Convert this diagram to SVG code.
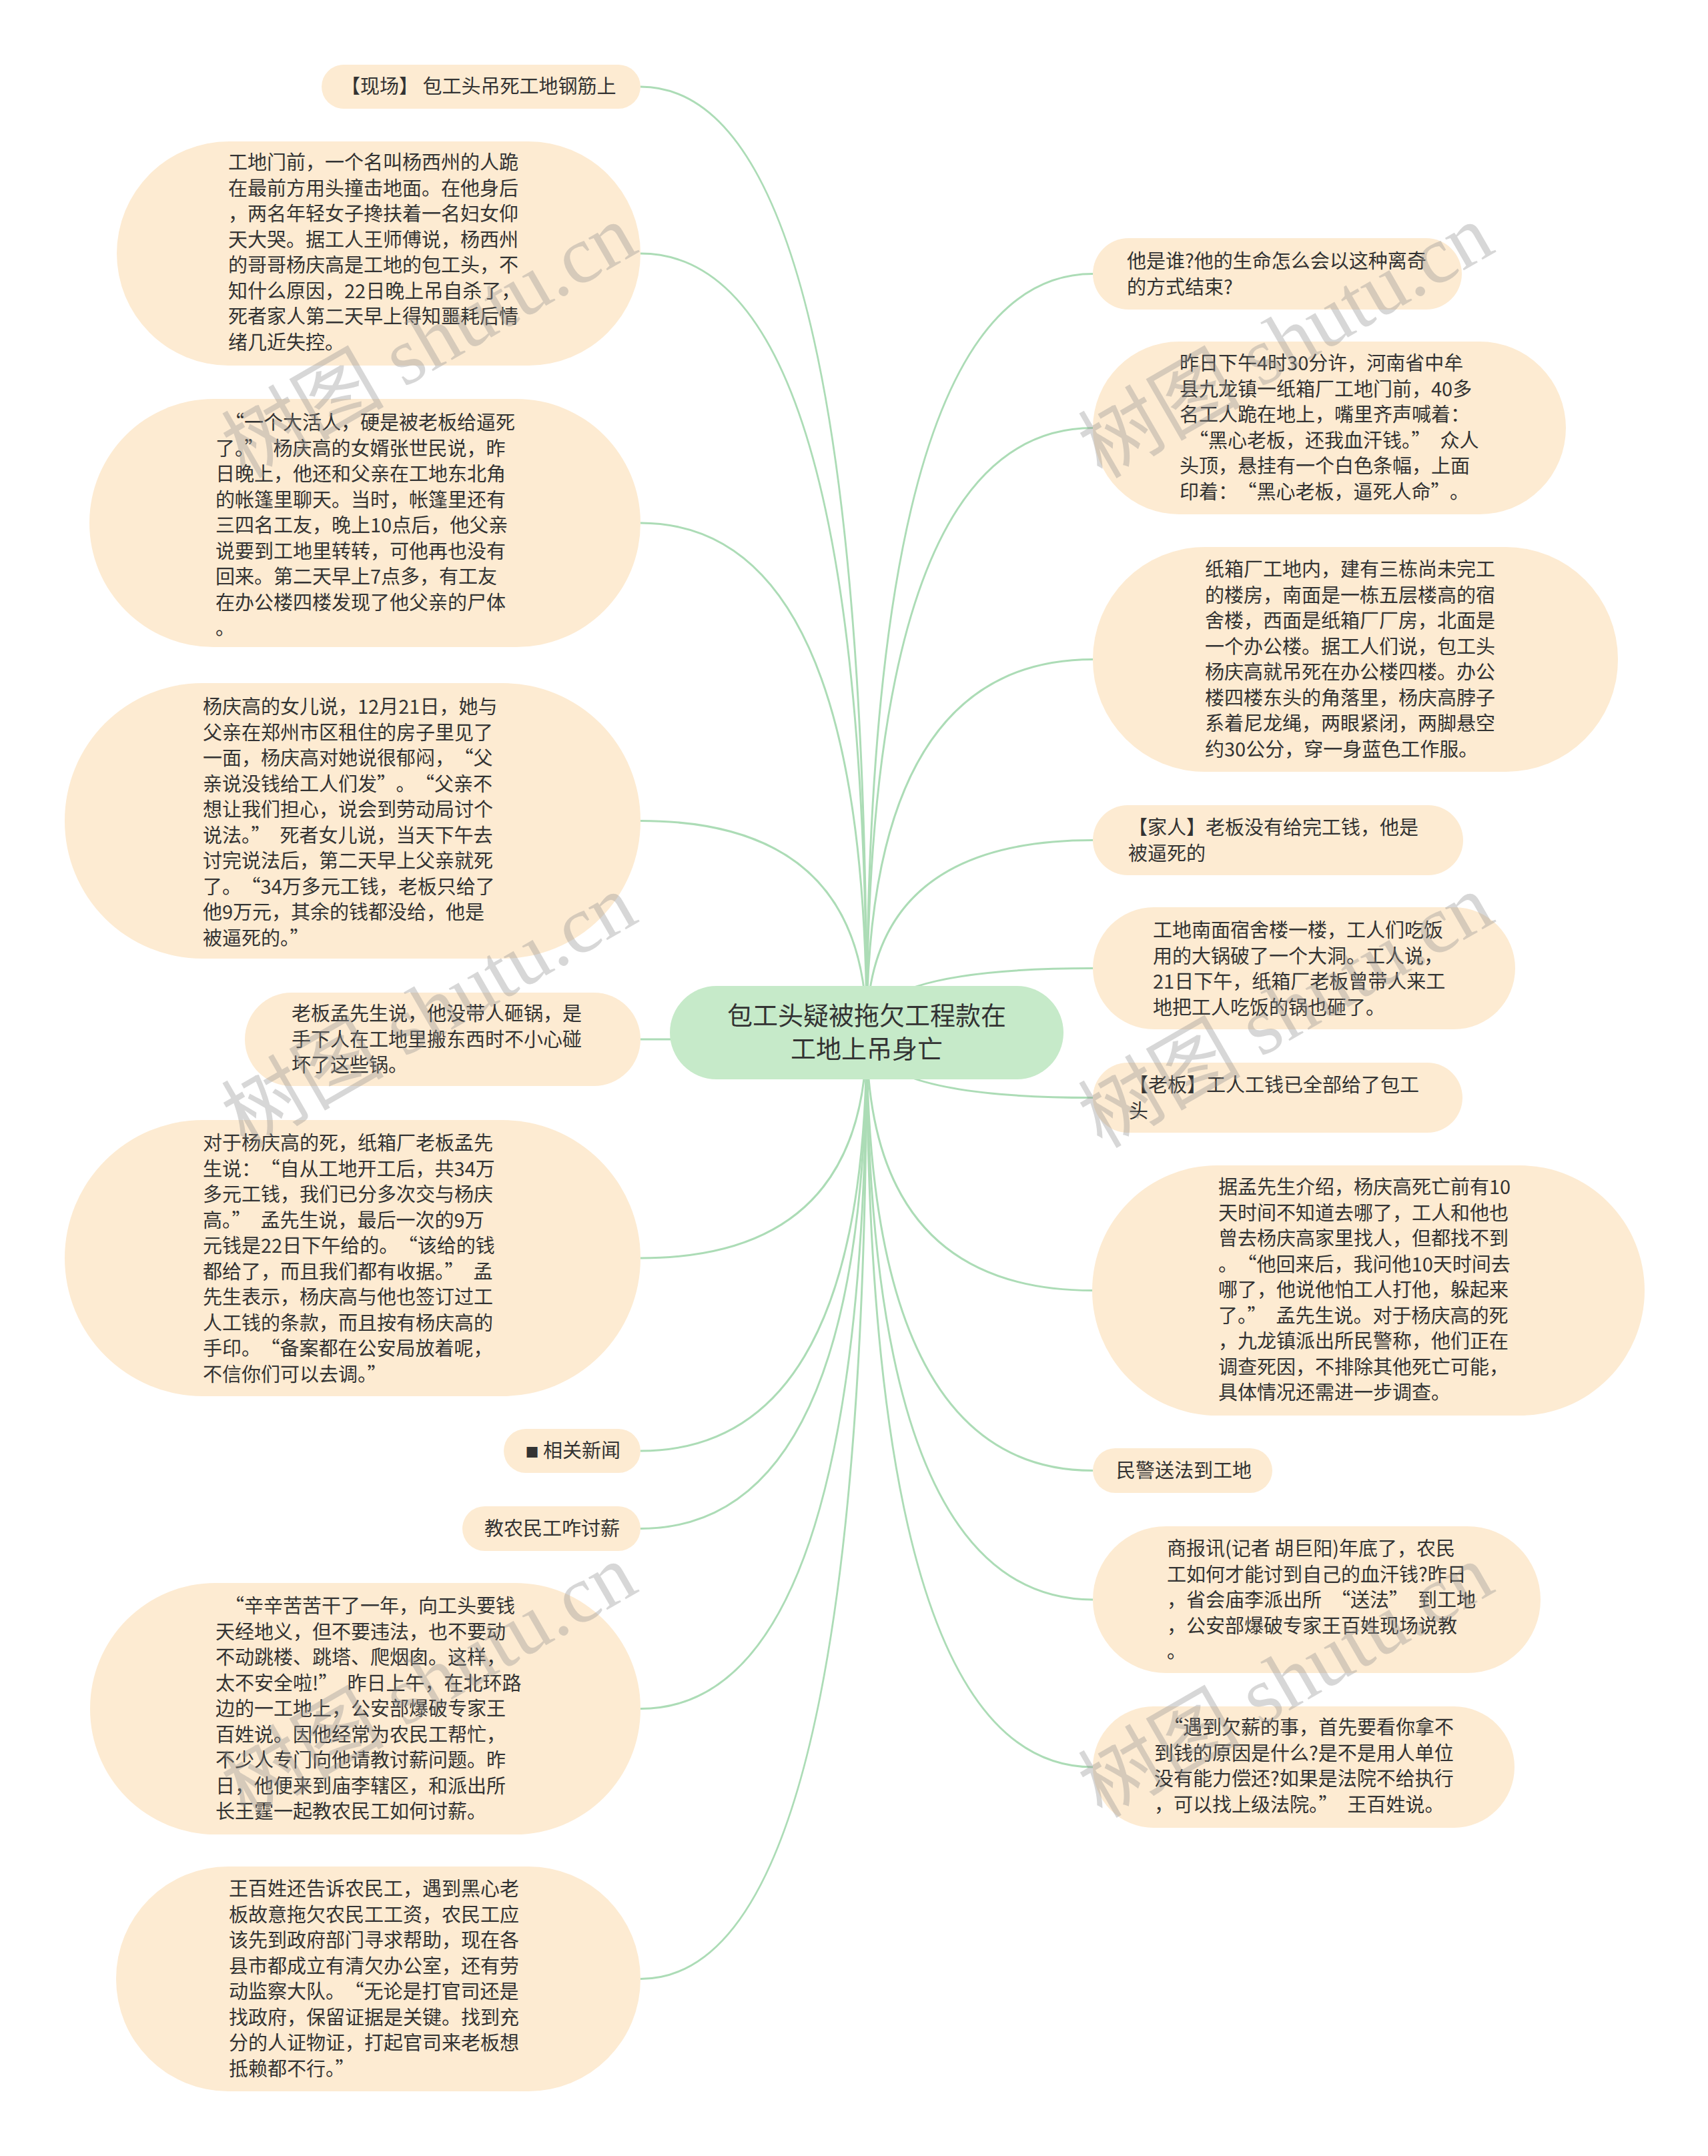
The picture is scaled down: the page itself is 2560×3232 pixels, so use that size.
<svg xmlns="http://www.w3.org/2000/svg" width="2560" height="3232" viewBox="0 0 2560 3232">
<style>
.bg{fill:#ffffff}
.n{fill:#fdebd2}
.root{fill:#c6eac9}
.t{font-family:"Noto Sans CJK SC","Noto Sans",sans-serif;font-size:29px;fill:#333333}
.qc{letter-spacing:14px}
.rt{font-family:"Noto Sans CJK SC","Noto Sans",sans-serif;font-size:38px;fill:#333333;text-anchor:middle}
.c{fill:none;stroke:#acdcb6;stroke-width:3}
.wm{font-family:"Liberation Serif","Noto Sans CJK SC",serif;font-size:122px;fill:#8f8f8f;fill-opacity:0.36;text-anchor:middle}
</style>
<rect class="bg" x="0" y="0" width="2560" height="3232"/>
<g id="connectors">
<path class="c" d="M1299 1548 Q1299 130 960 130"/>
<path class="c" d="M1299 1548 Q1299 380 960 380"/>
<path class="c" d="M1299 1548 Q1299 784 960 784"/>
<path class="c" d="M1299 1548 Q1299 1230.5 960 1230.5"/>
<path class="c" d="M1299 1548 Q1299 1558 960 1558"/>
<path class="c" d="M1299 1548 Q1299 1886 960 1886"/>
<path class="c" d="M1299 1548 Q1299 2175 960 2175"/>
<path class="c" d="M1299 1548 Q1299 2291.5 960 2291.5"/>
<path class="c" d="M1299 1548 Q1299 2561.5 960 2561.5"/>
<path class="c" d="M1299 1548 Q1299 2966.5 960 2966.5"/>
<path class="c" d="M1299 1548 Q1299 410.5 1638 410.5"/>
<path class="c" d="M1299 1548 Q1299 641.5 1638 641.5"/>
<path class="c" d="M1299 1548 Q1299 988.5 1638 988.5"/>
<path class="c" d="M1299 1548 Q1299 1259.5 1638 1259.5"/>
<path class="c" d="M1299 1548 Q1299 1451.5 1638 1451.5"/>
<path class="c" d="M1299 1548 Q1299 1645.5 1638 1645.5"/>
<path class="c" d="M1299 1548 Q1299 1934.5 1638 1934.5"/>
<path class="c" d="M1299 1548 Q1299 2204.5 1638 2204.5"/>
<path class="c" d="M1299 1548 Q1299 2398 1638 2398"/>
<path class="c" d="M1299 1548 Q1299 2649 1638 2649"/>
</g>
<g id="root">
<rect class="root" x="1004" y="1478" width="590" height="140" rx="70" ry="70"/>
<text class="rt"><tspan x="1299" y="1536">包工头疑被拖欠工程款在</tspan><tspan x="1299" y="1586">工地上吊身亡</tspan></text>
</g>
<g id="L1">
<rect class="n" x="482" y="97" width="478" height="66" rx="33" ry="33"/>
<text class="t" x="511" y="140">【现场】 包工头吊死工地钢筋上</text>
</g>
<g id="L2">
<rect class="n" x="175" y="212" width="785" height="336" rx="168" ry="168"/>
<text class="t"><tspan x="342" y="254">工地门前，一个名叫杨西州的人跪</tspan><tspan x="342" y="292.5">在最前方用头撞击地面。在他身后</tspan><tspan x="342" y="331">，两名年轻女子搀扶着一名妇女仰</tspan><tspan x="342" y="369.5">天大哭。据工人王师傅说，杨西州</tspan><tspan x="342" y="408">的哥哥杨庆高是工地的包工头，不</tspan><tspan x="342" y="446.5">知什么原因，22日晚上吊自杀了，</tspan><tspan x="342" y="485">死者家人第二天早上得知噩耗后情</tspan><tspan x="342" y="523.5">绪几近失控。</tspan></text>
</g>
<g id="L3">
<rect class="n" x="134" y="598" width="826" height="372" rx="186" ry="186"/>
<text class="t"><tspan x="323" y="644"><tspan dx="14">“</tspan>一个大活人，硬是被老板给逼死</tspan><tspan x="323" y="682.5">了。<tspan class="qc">”</tspan>杨庆高的女婿张世民说，昨</tspan><tspan x="323" y="721">日晚上，他还和父亲在工地东北角</tspan><tspan x="323" y="759.5">的帐篷里聊天。当时，帐篷里还有</tspan><tspan x="323" y="798">三四名工友，晚上10点后，他父亲</tspan><tspan x="323" y="836.5">说要到工地里转转，可他再也没有</tspan><tspan x="323" y="875">回来。第二天早上7点多，有工友</tspan><tspan x="323" y="913.5">在办公楼四楼发现了他父亲的尸体</tspan><tspan x="323" y="952">。</tspan></text>
</g>
<g id="L4">
<rect class="n" x="97" y="1024" width="863" height="413" rx="206" ry="206"/>
<text class="t"><tspan x="304" y="1070">杨庆高的女儿说，12月21日，她与</tspan><tspan x="304" y="1108.5">父亲在郑州市区租住的房子里见了</tspan><tspan x="304" y="1147">一面，杨庆高对她说很郁闷，<tspan dx="14">“</tspan>父</tspan><tspan x="304" y="1185.5">亲说没钱给工人们发<tspan class="qc">”</tspan>。<tspan dx="14">“</tspan>父亲不</tspan><tspan x="304" y="1224">想让我们担心，说会到劳动局讨个</tspan><tspan x="304" y="1262.5">说法。<tspan class="qc">”</tspan>死者女儿说，当天下午去</tspan><tspan x="304" y="1301">讨完说法后，第二天早上父亲就死</tspan><tspan x="304" y="1339.5">了。<tspan dx="14">“</tspan>34万多元工钱，老板只给了</tspan><tspan x="304" y="1378">他9万元，其余的钱都没给，他是</tspan><tspan x="304" y="1416.5">被逼死的。<tspan class="qc">”</tspan></tspan></text>
</g>
<g id="L5">
<rect class="n" x="367" y="1488" width="593" height="140" rx="70" ry="70"/>
<text class="t"><tspan x="437" y="1530">老板孟先生说，他没带人砸锅，是</tspan><tspan x="437" y="1568.5">手下人在工地里搬东西时不小心碰</tspan><tspan x="437" y="1607">坏了这些锅。</tspan></text>
</g>
<g id="L6">
<rect class="n" x="97" y="1679" width="863" height="414" rx="207" ry="207"/>
<text class="t"><tspan x="304" y="1724">对于杨庆高的死，纸箱厂老板孟先</tspan><tspan x="304" y="1762.5">生说：<tspan dx="14">“</tspan>自从工地开工后，共34万</tspan><tspan x="304" y="1801">多元工钱，我们已分多次交与杨庆</tspan><tspan x="304" y="1839.5">高。<tspan class="qc">”</tspan>孟先生说，最后一次的9万</tspan><tspan x="304" y="1878">元钱是22日下午给的。<tspan dx="14">“</tspan>该给的钱</tspan><tspan x="304" y="1916.5">都给了，而且我们都有收据。<tspan class="qc">”</tspan>孟</tspan><tspan x="304" y="1955">先生表示，杨庆高与他也签订过工</tspan><tspan x="304" y="1993.5">人工钱的条款，而且按有杨庆高的</tspan><tspan x="304" y="2032">手印。<tspan dx="14">“</tspan>备案都在公安局放着呢，</tspan><tspan x="304" y="2070.5">不信你们可以去调。<tspan class="qc">”</tspan></tspan></text>
</g>
<g id="L7">
<rect class="n" x="755" y="2142" width="205" height="66" rx="33" ry="33"/>
<text class="t" x="930" y="2185" text-anchor="end"><tspan font-size="20">■</tspan> 相关新闻</text>
</g>
<g id="L8">
<rect class="n" x="693" y="2258" width="267" height="67" rx="33.5" ry="33.5"/>
<text class="t" x="726" y="2301.5">教农民工咋讨薪</text>
</g>
<g id="L9">
<rect class="n" x="135" y="2373" width="825" height="377" rx="188" ry="188"/>
<text class="t"><tspan x="323" y="2418"><tspan dx="14">“</tspan>辛辛苦苦干了一年，向工头要钱</tspan><tspan x="323" y="2456.5">天经地义，但不要违法，也不要动</tspan><tspan x="323" y="2495">不动跳楼、跳塔、爬烟囱。这样，</tspan><tspan x="323" y="2533.5">太不安全啦!<tspan class="qc">”</tspan>昨日上午，在北环路</tspan><tspan x="323" y="2572">边的一工地上，公安部爆破专家王</tspan><tspan x="323" y="2610.5">百姓说。因他经常为农民工帮忙，</tspan><tspan x="323" y="2649">不少人专门向他请教讨薪问题。昨</tspan><tspan x="323" y="2687.5">日，他便来到庙李辖区，和派出所</tspan><tspan x="323" y="2726">长王霆一起教农民工如何讨薪。</tspan></text>
</g>
<g id="L10">
<rect class="n" x="174" y="2798" width="786" height="337" rx="168" ry="168"/>
<text class="t"><tspan x="343" y="2842">王百姓还告诉农民工，遇到黑心老</tspan><tspan x="343" y="2880.5">板故意拖欠农民工工资，农民工应</tspan><tspan x="343" y="2919">该先到政府部门寻求帮助，现在各</tspan><tspan x="343" y="2957.5">县市都成立有清欠办公室，还有劳</tspan><tspan x="343" y="2996">动监察大队。<tspan dx="14">“</tspan>无论是打官司还是</tspan><tspan x="343" y="3034.5">找政府，保留证据是关键。找到充</tspan><tspan x="343" y="3073">分的人证物证，打起官司来老板想</tspan><tspan x="343" y="3111.5">抵赖都不行。<tspan class="qc">”</tspan></tspan></text>
</g>
<g id="R1">
<rect class="n" x="1638" y="357" width="553" height="107" rx="53.5" ry="53.5"/>
<text class="t"><tspan x="1689" y="402">他是谁?他的生命怎么会以这种离奇</tspan><tspan x="1689" y="440.5">的方式结束?</tspan></text>
</g>
<g id="R2">
<rect class="n" x="1638" y="512" width="709" height="259" rx="129.5" ry="129.5"/>
<text class="t"><tspan x="1768" y="555">昨日下午4时30分许，河南省中牟</tspan><tspan x="1768" y="593.5">县九龙镇一纸箱厂工地门前，40多</tspan><tspan x="1768" y="632">名工人跪在地上，嘴里齐声喊着：</tspan><tspan x="1768" y="670.5"><tspan dx="14">“</tspan>黑心老板，还我血汗钱。<tspan class="qc">”</tspan>众人</tspan><tspan x="1768" y="709">头顶，悬挂有一个白色条幅，上面</tspan><tspan x="1768" y="747.5">印着：<tspan dx="14">“</tspan>黑心老板，逼死人命<tspan class="qc">”</tspan>。</tspan></text>
</g>
<g id="R3">
<rect class="n" x="1638" y="820" width="787" height="337" rx="168" ry="168"/>
<text class="t"><tspan x="1806" y="864">纸箱厂工地内，建有三栋尚未完工</tspan><tspan x="1806" y="902.5">的楼房，南面是一栋五层楼高的宿</tspan><tspan x="1806" y="941">舍楼，西面是纸箱厂厂房，北面是</tspan><tspan x="1806" y="979.5">一个办公楼。据工人们说，包工头</tspan><tspan x="1806" y="1018">杨庆高就吊死在办公楼四楼。办公</tspan><tspan x="1806" y="1056.5">楼四楼东头的角落里，杨庆高脖子</tspan><tspan x="1806" y="1095">系着尼龙绳，两眼紧闭，两脚悬空</tspan><tspan x="1806" y="1133.5">约30公分，穿一身蓝色工作服。</tspan></text>
</g>
<g id="R4">
<rect class="n" x="1638" y="1207" width="555" height="105" rx="52.5" ry="52.5"/>
<text class="t"><tspan x="1691" y="1251">【家人】老板没有给完工钱，他是</tspan><tspan x="1691" y="1289.5">被逼死的</tspan></text>
</g>
<g id="R5">
<rect class="n" x="1638" y="1360" width="633" height="183" rx="91.5" ry="91.5"/>
<text class="t"><tspan x="1728" y="1405">工地南面宿舍楼一楼，工人们吃饭</tspan><tspan x="1728" y="1443.5">用的大锅破了一个大洞。工人说，</tspan><tspan x="1728" y="1482">21日下午，纸箱厂老板曾带人来工</tspan><tspan x="1728" y="1520.5">地把工人吃饭的锅也砸了。</tspan></text>
</g>
<g id="R6">
<rect class="n" x="1638" y="1593" width="554" height="105" rx="52.5" ry="52.5"/>
<text class="t"><tspan x="1692" y="1637">【老板】工人工钱已全部给了包工</tspan><tspan x="1692" y="1675.5">头</tspan></text>
</g>
<g id="R7">
<rect class="n" x="1637" y="1747" width="828" height="375" rx="187.5" ry="187.5"/>
<text class="t"><tspan x="1826" y="1790">据孟先生介绍，杨庆高死亡前有10</tspan><tspan x="1826" y="1828.5">天时间不知道去哪了，工人和他也</tspan><tspan x="1826" y="1867">曾去杨庆高家里找人，但都找不到</tspan><tspan x="1826" y="1905.5">。<tspan dx="14">“</tspan>他回来后，我问他10天时间去</tspan><tspan x="1826" y="1944">哪了，他说他怕工人打他，躲起来</tspan><tspan x="1826" y="1982.5">了。<tspan class="qc">”</tspan>孟先生说。对于杨庆高的死</tspan><tspan x="1826" y="2021">，九龙镇派出所民警称，他们正在</tspan><tspan x="1826" y="2059.5">调查死因，不排除其他死亡可能，</tspan><tspan x="1826" y="2098">具体情况还需进一步调查。</tspan></text>
</g>
<g id="R8">
<rect class="n" x="1638" y="2171" width="269" height="67" rx="33.5" ry="33.5"/>
<text class="t" x="1673" y="2214.5">民警送法到工地</text>
</g>
<g id="R9">
<rect class="n" x="1638" y="2288" width="671" height="220" rx="110" ry="110"/>
<text class="t"><tspan x="1749" y="2332">商报讯(记者 胡巨阳)年底了，农民</tspan><tspan x="1749" y="2370.5">工如何才能讨到自己的血汗钱?昨日</tspan><tspan x="1749" y="2409">，省会庙李派出所<tspan dx="14">“</tspan>送法<tspan class="qc">”</tspan>到工地</tspan><tspan x="1749" y="2447.5">，公安部爆破专家王百姓现场说教</tspan><tspan x="1749" y="2486">。</tspan></text>
</g>
<g id="R10">
<rect class="n" x="1638" y="2558" width="632" height="182" rx="91" ry="91"/>
<text class="t"><tspan x="1730" y="2600"><tspan dx="14">“</tspan>遇到欠薪的事，首先要看你拿不</tspan><tspan x="1730" y="2638.5">到钱的原因是什么?是不是用人单位</tspan><tspan x="1730" y="2677">没有能力偿还?如果是法院不给执行</tspan><tspan x="1730" y="2715.5">，可以找上级法院。<tspan class="qc">”</tspan>王百姓说。</tspan></text>
</g>
<g id="watermarks">
<text class="wm" x="643" y="553" transform="rotate(-30 643 511)">树图 shutu.cn</text>
<text class="wm" x="1927" y="553" transform="rotate(-30 1927 511)">树图 shutu.cn</text>
<text class="wm" x="643" y="1557" transform="rotate(-30 643 1515)">树图 shutu.cn</text>
<text class="wm" x="1927" y="1557" transform="rotate(-30 1927 1515)">树图 shutu.cn</text>
<text class="wm" x="643" y="2561" transform="rotate(-30 643 2519)">树图 shutu.cn</text>
<text class="wm" x="1927" y="2561" transform="rotate(-30 1927 2519)">树图 shutu.cn</text>
</g>
</svg>
